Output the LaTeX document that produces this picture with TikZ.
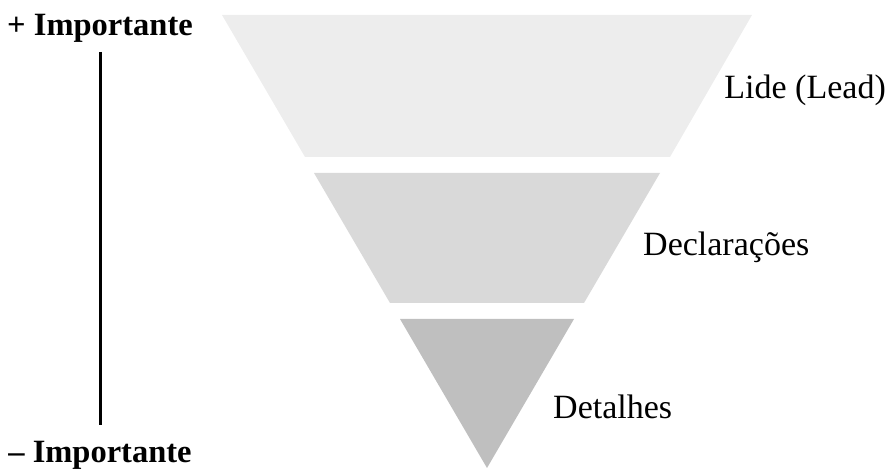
\documentclass[tikz,border=0pt]{standalone}
\usepackage{fontspec}
\setmainfont{Liberation Serif}
\usepackage{tikz}
\definecolor{bandone}{HTML}{EDEDED}
\definecolor{bandtwo}{HTML}{D9D9D9}
\definecolor{bandthree}{HTML}{BFBFBF}
\tikzstyle{band}=[draw=none]
\tikzstyle{label}=[anchor=west, inner sep=0pt, font=\fontsize{34}{34}\selectfont]
\tikzstyle{rank}=[inner sep=0pt, font=\fontsize{32.5}{32.5}\selectfont\bfseries]
\tikzstyle{axis}=[draw=black, line width=3pt]

\begin{document}
\begin{tikzpicture}[x=1pt, y=-1pt]
		   \useasboundingbox (0,0) rectangle (887,470);
		   \begin{scope}
			   % funnel, three bands
			   \fill[band, bandone] (222, 15) -- (752, 15) -- (670, 157) -- (305, 157) -- cycle;
			   \fill[band, bandtwo] (314, 173) -- (660, 173) -- (584, 303) -- (390, 303) -- cycle;
			   \fill[band, bandthree] (400, 319) -- (574, 319) -- (487, 468) -- cycle;
		   \end{scope}
		   \begin{scope}
			   \node (lide) at (886, 90)[label, anchor=east] {Lide (Lead)};
			   \node (decl) at (643, 247)[label] {Declarações};
			   \node (det) at (553, 407)[label] {Detalhes};
			   \node (mais) at (100, 28)[rank] {+ Importante};
			   \node (menos) at (100, 455)[rank] {– Importante};
		   \end{scope}
		   \begin{scope}
			   \coordinate (axtop) at (100, 52);
			   \coordinate (axbot) at (100, 425);
			   \path [axis] (axtop) -- (axbot);
		   \end{scope}
	   \end{tikzpicture}
\end{document}
